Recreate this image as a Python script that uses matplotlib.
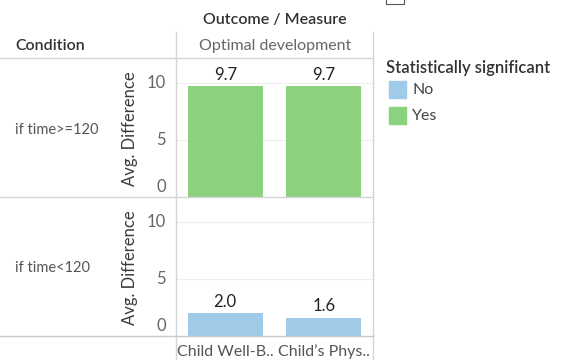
import numpy as np
import matplotlib
matplotlib.use("Agg")
from matplotlib import pyplot as plt
from matplotlib.patches import Rectangle

plt.rcParams['font.family'] = ['Lato', 'DejaVu Sans']

# data
outcomes = ["Child Well-B..", "Child\u2019s Phys.."]
conditions = ["if time>=120", "if time<120"]
avg_diff = [[9.7, 9.7], [2.0, 1.6]]
significant = [["Yes", "Yes"], ["No", "No"]]
sig_colors = {"No": "#A0CBE8", "Yes": "#8CD17D"}
yticks = [0, 5, 10]

W, H = 565, 360
fig = plt.figure(figsize=(W / 100, H / 100), dpi=100)


def fx(x):
    return x / W


def fy(y):
    return 1 - y / H


def line(x0, y0, x1, y1, color="#d4d4d4", lw=1.0):
    fig.add_artist(plt.Line2D([fx(x0), fx(x1)], [fy(y0), fy(y1)], color=color, lw=lw))


# panels (pixel boxes)
panel_left, panel_right = 176, 373
row_tops = [58, 197]
row_bottoms = [197, 336]
ymax = 12.2

for r, cond in enumerate(conditions):
    top, bot = row_tops[r], row_bottoms[r]
    ax = fig.add_axes([fx(panel_left), fy(bot), fx(panel_right - panel_left), (bot - top) / H])
    x = np.arange(len(outcomes))
    cols = [sig_colors[s] for s in significant[r]]
    ax.bar(x, avg_diff[r], width=0.76, color=cols, zorder=2)
    for xi, v in zip(x, avg_diff[r]):
        ax.text(xi, v + 0.3, f"{v:.1f}", ha="center", va="bottom", fontsize=12, color="#222222")
    ax.set_xlim(-0.5, len(outcomes) - 0.5)
    ax.set_ylim(0, ymax)
    for g in yticks[1:]:
        ax.axhline(g, color="#eeeeee", lw=0.8, zorder=1)
    ax.set_xticks([])
    ax.set_yticks([])
    for s in ax.spines.values():
        s.set_visible(False)
    ax.patch.set_alpha(0)

    # tick labels and axis title
    scale = (bot - top) / ymax
    for t in yticks:
        ty = bot - t * scale
        if t == 0:
            ty -= 10
        fig.text(fx(166), fy(ty), str(t), ha="right", va="center", fontsize=12, color="#666666")
    fig.text(fx(130), fy((top + bot) / 2 + 1), "Avg. Difference", rotation=90,
             ha="center", va="center", fontsize=12, color="#3a3a3a")
    fig.text(fx(15), fy((top + bot) / 2 + 2), cond, ha="left", va="center", fontsize=10.5, color="#555555")

# frame lines
line(panel_left, 32, panel_left, 360)
line(panel_right, 32, panel_right, 360)
line(0, 58, panel_right, 58)
line(0, 197, panel_right, 197)
line(0, 336, panel_right, 336, color="#c8c8c8")

# headers
fig.text(fx(275), fy(20), "Outcome / Measure", ha="center", va="center", fontsize=11.5,
         fontweight="semibold", color="#333333")
fig.text(fx(15), fy(46), "Condition", ha="left", va="center", fontsize=11.5,
         fontweight="semibold", color="#333333")
fig.text(fx(275), fy(46), "Optimal development", ha="center", va="center", fontsize=11.5,
         color="#666666")
for i, name in enumerate(outcomes):
    cx = panel_left + (i + 0.5) * (panel_right - panel_left) / len(outcomes)
    fig.text(fx(cx), fy(352), name, ha="center", va="center", fontsize=11.5, color="#555555")

# legend
fig.text(fx(386), fy(68), "Statistically significant", ha="left", va="center", fontsize=12,
         fontweight="semibold", color="#333333")
for i, key in enumerate(["No", "Yes"]):
    yy = 90 + 26 * i
    fig.add_artist(Rectangle((fx(389), fy(yy + 8)), fx(17), 17 / H, color=sig_colors[key]))
    fig.text(fx(412), fy(yy), key, ha="left", va="center", fontsize=11.5, color="#444444")

# small box at the top edge
fig.add_artist(Rectangle((fx(386), fy(4)), fx(18), 8 / H, fill=False, ec="#555555", lw=0.8))

fig.savefig("out.png", dpi=100, facecolor="white")
